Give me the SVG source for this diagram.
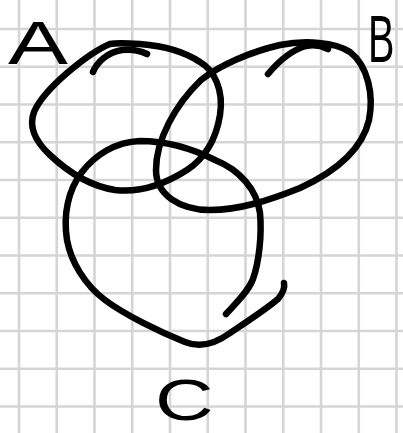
<svg xmlns="http://www.w3.org/2000/svg" width="403" height="433" viewBox="0 0 403 433">
<style>
.grid line{stroke:#d5d5d5;stroke-width:2.6}
.ink{fill:none;stroke:#000;stroke-width:6.5;stroke-linecap:round;stroke-linejoin:round}
.lbl{font-family:"Liberation Sans",Arial,sans-serif;fill:#000}
</style>
<rect width="403" height="433" fill="#fff"/>
<g class="grid">
<line x1="19" y1="0" x2="19" y2="433"/><line x1="56.75" y1="0" x2="56.75" y2="433"/><line x1="94.5" y1="0" x2="94.5" y2="433"/><line x1="132.25" y1="0" x2="132.25" y2="433"/><line x1="170" y1="0" x2="170" y2="433"/><line x1="207.75" y1="0" x2="207.75" y2="433"/><line x1="245.5" y1="0" x2="245.5" y2="433"/><line x1="283.25" y1="0" x2="283.25" y2="433"/><line x1="321" y1="0" x2="321" y2="433"/><line x1="358.75" y1="0" x2="358.75" y2="433"/><line x1="396.5" y1="0" x2="396.5" y2="433"/>
<line x1="0" y1="29" x2="403" y2="29"/><line x1="0" y1="66.75" x2="403" y2="66.75"/><line x1="0" y1="104.5" x2="403" y2="104.5"/><line x1="0" y1="142.25" x2="403" y2="142.25"/><line x1="0" y1="180" x2="403" y2="180"/><line x1="0" y1="217.75" x2="403" y2="217.75"/><line x1="0" y1="255.5" x2="403" y2="255.5"/><line x1="0" y1="293.25" x2="403" y2="293.25"/><line x1="0" y1="331" x2="403" y2="331"/><line x1="0" y1="368.75" x2="403" y2="368.75"/><line x1="0" y1="406.5" x2="403" y2="406.5"/>
</g>
<g id="connectors"></g>
<g id="setA">
<path class="ink" d="M110,44 C95,50 80,62 67,73 C52,86 40,98 34,112 C28,128 36,142 50,155 C68,172 90,186 115,190 C140,193 165,184 187,170 C205,158 216,140 220,115 C224,90 214,70 200,62 C185,52 165,46 140,44 C125,43 115,43 110,44"/>
<path class="ink" d="M93,72 C97,62 108,52 122,50 C132,49 141,51 147,54"/>
<text class="lbl" font-size="62" transform="translate(8,64) scale(1.45,1)">A</text>
</g>
<g id="setB">
<path class="ink" d="M201,80 C220,65 250,52 280,45 C305,40 335,42 350,52 C368,66 374,95 369,120 C362,150 335,172 300,188 C270,200 240,210 210,210 C180,210 156,195 156,170 C156,140 175,105 201,80 Z"/>
<path class="ink" d="M268,74 C278,62 292,50 306,46 C315,44 322,46 328,49"/>
<text class="lbl" font-size="66" transform="translate(368,62) scale(0.6,1)">B</text>
</g>
<g id="setC">
<path class="ink" d="M226,314 C236,303 248,292 253,279 C259,262 262,235 260,213 C257,190 240,170 215,160 C195,150 170,141 140,141 C115,142 95,155 82,172 C68,190 63,215 67,240 C71,262 85,285 105,300 C125,315 160,332 185,342 C200,348 215,344 230,333 C245,323 265,310 278,299 C283,293 285,288 284,283"/>
<text class="lbl" font-size="58" transform="translate(155,420) scale(1.4,1)">C</text>
</g>
</svg>
